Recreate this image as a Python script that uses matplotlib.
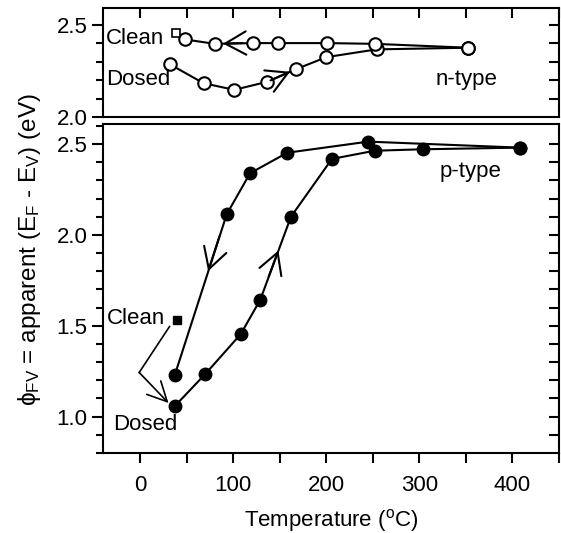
import matplotlib
matplotlib.use("Agg")
import matplotlib.pyplot as plt
from matplotlib.ticker import MultipleLocator

plt.rcParams['font.family'] = ['Liberation Sans', 'DejaVu Sans']
plt.rcParams['mathtext.default'] = 'regular'
FS = 16

# n-type (top panel), open circles
n_heat_T = [32, 68, 101, 136, 167, 200, 254, 352]
n_heat_v = [2.285, 2.183, 2.147, 2.19, 2.258, 2.324, 2.366, 2.375]
n_cool_T = [352, 252, 201, 148, 121, 80, 48]
n_cool_v = [2.375, 2.396, 2.40, 2.40, 2.40, 2.396, 2.42]
n_clean_T = [38]
n_clean_v = [2.455]

# p-type (bottom panel), filled circles
p_heat_T = [37, 70, 108, 129, 162, 206, 252, 304, 408]
p_heat_v = [1.057, 1.235, 1.454, 1.643, 2.10, 2.418, 2.463, 2.471, 2.48]
p_cool_T = [408, 245, 158, 118, 93, 37]
p_cool_v = [2.48, 2.513, 2.452, 2.339, 2.114, 1.227]
p_clean_T = [40]
p_clean_v = [1.529]

W, H = 561, 533
fig = plt.figure(figsize=(W / 100, H / 100), dpi=100)
left, right = 103 / W, 559 / W
ax_top = fig.add_axes([left, 1 - 117 / H, right - left, (117 - 8) / H])
ax_bot = fig.add_axes([left, 1 - 453 / H, right - left, (453 - 124) / H])

lw = 1.5
ms = 9
for ax in (ax_top, ax_bot):
    for s in ax.spines.values():
        s.set_linewidth(lw)
    ax.set_xlim(-40, 450)

# top panel
ax_top.plot(n_heat_T, n_heat_v, '-o', color='black', lw=lw, ms=ms, mfc='white', mec='black', mew=1.5)
ax_top.plot(n_cool_T, n_cool_v, '-o', color='black', lw=lw, ms=ms, mfc='white', mec='black', mew=1.5)
ax_top.plot(n_clean_T, n_clean_v, 's', ms=6, mfc='white', mec='black', mew=1.2)
ax_top.set_ylim(2.0, 2.59)
ax_top.set_yticks([2.0, 2.5])
ax_top.yaxis.set_minor_locator(MultipleLocator(0.1))
ax_top.set_yticklabels(['2.0', '2.5'], fontsize=FS)
ax_top.tick_params(axis='y', which='major', direction='out', length=8, width=lw, left=True, right=False, pad=3)
ax_top.tick_params(axis='y', which='minor', direction='out', length=5, width=lw, left=True, right=False)
ax_top.set_xticks(range(0, 451, 50))
ax_top.tick_params(axis='x', which='major', direction='in', length=7, width=lw,
                   top=True, bottom=False, labelbottom=False, labeltop=False)
# right-side inward ticks
axr = ax_top.twinx()
axr.set_ylim(ax_top.get_ylim())
axr.set_yticks([2.1, 2.2, 2.3, 2.4, 2.5])
axr.tick_params(axis='y', direction='in', length=7, width=lw, labelright=False)
for s in axr.spines.values():
    s.set_visible(False)

ax_top.text(-37, 2.425, 'Clean', fontsize=FS, va='center', ha='left')
ax_top.text(-37, 2.204, 'Dosed', fontsize=FS, va='center', ha='left')
ax_top.text(317, 2.204, 'n-type', fontsize=FS, va='center', ha='left')

arrow_kw = dict(arrowstyle='->,head_length=0.75,head_width=0.42', lw=lw, color='black',
                shrinkA=0, shrinkB=0, mutation_scale=20)
ax_top.annotate('', xy=(89, 2.397), xytext=(110, 2.40), arrowprops=arrow_kw)
ax_top.annotate('', xy=(161, 2.245), xytext=(140, 2.198), arrowprops=arrow_kw)

# bottom panel
ax_bot.plot(p_heat_T, p_heat_v, '-o', color='black', lw=lw, ms=ms, mfc='black', mec='black')
ax_bot.plot(p_cool_T, p_cool_v, '-o', color='black', lw=lw, ms=ms, mfc='black', mec='black')
ax_bot.plot(p_clean_T, p_clean_v, 's', ms=6, mfc='black', mec='black')
ax_bot.set_ylim(0.8, 2.61)
ax_bot.set_yticks([1.0, 1.5, 2.0, 2.5])
ax_bot.set_yticklabels(['1.0', '1.5', '2.0', '2.5'], fontsize=FS)
ax_bot.yaxis.set_minor_locator(MultipleLocator(0.1))
ax_bot.tick_params(axis='y', which='major', direction='out', length=8, width=lw, left=True, right=False, pad=3)
ax_bot.tick_params(axis='y', which='minor', direction='out', length=5, width=lw, left=True, right=False)
ax_bot.set_xticks(range(0, 451, 50))
ax_bot.set_xticklabels(['0', '', '100', '', '200', '', '300', '', '400', ''], fontsize=FS)
ax_bot.tick_params(axis='x', which='major', direction='out', length=7, width=lw, pad=9)
axr2 = ax_bot.twinx()
axr2.set_ylim(ax_bot.get_ylim())
axr2.set_yticks([0.9 + 0.1 * i for i in range(17)])
axr2.tick_params(axis='y', direction='in', length=7, width=lw, labelright=False)
for s in axr2.spines.values():
    s.set_visible(False)

ax_bot.text(322, 2.348, 'p-type', fontsize=FS, va='center', ha='left')
ax_bot.text(-36, 1.538, 'Clean', fontsize=FS, va='center', ha='left')
ax_bot.text(-29, 0.956, 'Dosed', fontsize=FS, va='center', ha='left')
ax_bot.annotate('', xy=(73, 1.80), xytext=(85, 1.99), arrowprops=arrow_kw)
ax_bot.annotate('', xy=(148.5, 1.914), xytext=(138, 1.77), arrowprops=arrow_kw)
ax_bot.plot([31.5, -1.1], [1.496, 1.243], color='black', lw=lw * 0.8)
ax_bot.annotate('', xy=(30.4, 1.075), xytext=(-1.1, 1.243),
                arrowprops=dict(arrowstyle='->,head_length=0.7,head_width=0.35', lw=lw * 0.8,
                                color='black', shrinkA=0, shrinkB=0, mutation_scale=20))

ax_bot.set_xlabel('Temperature ($^{o}$C)', fontsize=FS, labelpad=8)
fig.text(30 / W, 1 - 250 / H, 'ϕ$_{FV}$ = apparent (E$_F$ - E$_V$) (eV)', rotation=90,
         fontsize=17.5, ha='center', va='center')

fig.savefig('out.png', dpi=100)
